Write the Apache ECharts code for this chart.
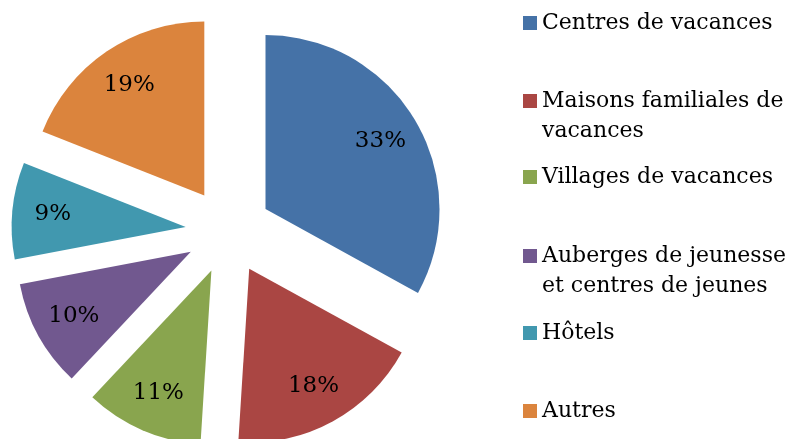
<!DOCTYPE html>
<html>
<head>
<meta charset="utf-8" />
<script src="https://cdn.jsdelivr.net/npm/echarts@6/dist/echarts.min.js"></script>
<style>
  html, body { margin: 0; padding: 0; background: #fff; }
  #chart { width: 792px; height: 439px; }
</style>
</head>
<body>
<div id="chart"></div>
<script>
const categories = [
  "Centres de vacances",
  "Maisons familiales de vacances",
  "Villages de vacances",
  "Auberges de jeunesse et centres de jeunes",
  "Hôtels",
  "Autres",
];
const shares = [33, 18, 11, 10, 9, 19];
const colors = ["#4572A7", "#AA4643", "#89A54E", "#71588F", "#4198AF", "#DB843D"];
// how each legend entry is broken into lines
const legendLines = {
  "Maisons familiales de vacances": ["Maisons familiales de", "vacances"],
  "Auberges de jeunesse et centres de jeunes": ["Auberges de jeunesse", "et centres de jeunes"],
};
const legendMarkerY = [22, 100, 176, 255, 332, 410];

const font = "DejaVu Serif";
const lineH = 30;
const center = [228.5, 231];
const radius = 174;
const offset = 43;

const pieData = categories.map((name, i) => ({
  name,
  value: shares[i],
  selected: true,
  itemStyle: { color: colors[i] },
}));

const legends = categories.map((name, i) => {
  const lines = legendLines[name];
  const textH = lines ? lineH * 3 : lineH;
  return {
    data: [name],
    left: 523,
    top: legendMarkerY[i] - textH / 2 + 1,
    padding: 0,
    icon: "rect",
    itemWidth: 14,
    itemHeight: 14,
    selectedMode: false,
    formatter: (n) => (legendLines[n] ? " \n" + legendLines[n].join("\n") : n),
    textStyle: { fontFamily: font, fontSize: 22, lineHeight: lineH, color: "#000" },
  };
});

const chart = echarts.init(document.getElementById("chart"), null, { renderer: "canvas" });
chart.setOption({
  animation: false,
  color: colors,
  legend: legends,
  series: [
    {
      name: "slices",
      type: "pie",
      center,
      radius,
      startAngle: 90,
      clockwise: true,
      selectedMode: "multiple",
      selectedOffset: offset,
      emphasis: { disabled: true },
      label: { show: false },
      labelLine: { show: false },
      data: pieData,
    },
    {
      // transparent ring that only carries the labels at 3/4 of the radius
      name: "labels",
      type: "pie",
      center,
      radius: [radius / 2, radius],
      startAngle: 90,
      clockwise: true,
      silent: true,
      selectedMode: "multiple",
      selectedOffset: offset,
      emphasis: { disabled: true },
      itemStyle: { color: "rgba(0,0,0,0)" },
      label: {
        show: true,
        position: "inside",
        formatter: (p) => p.value + "%",
        fontFamily: font,
        fontSize: 23,
        color: "#000",
      },
      labelLine: { show: false },
      data: categories.map((name, i) => ({
        name,
        value: shares[i],
        selected: true,
        itemStyle: { color: "rgba(0,0,0,0)" },
      })),
    },
  ],
});
</script>
</body>
</html>
